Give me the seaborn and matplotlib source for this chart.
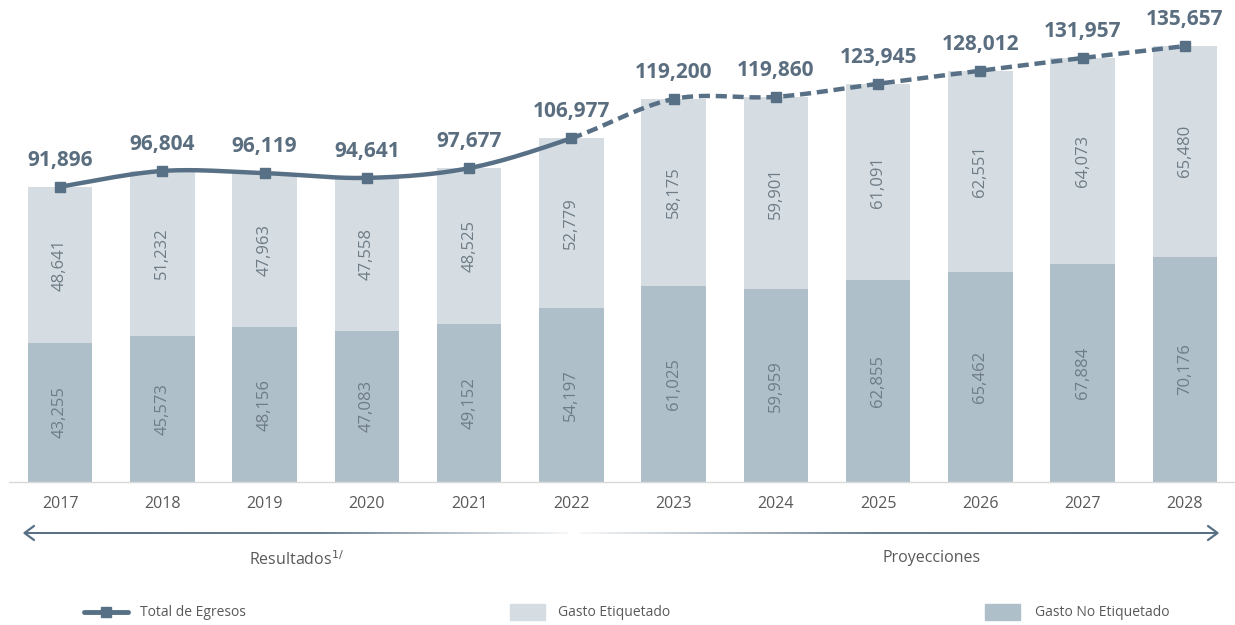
import numpy as np
import pandas as pd
import matplotlib
matplotlib.use("Agg")
import matplotlib.pyplot as plt
import seaborn as sns
from matplotlib.lines import Line2D
from matplotlib.patches import Rectangle

# Datos
years = ["2017", "2018", "2019", "2020", "2021", "2022",
         "2023", "2024", "2025", "2026", "2027", "2028"]
gasto_no_etiquetado = [43255, 45573, 48156, 47083, 49152, 54197,
                       61025, 59959, 62855, 65462, 67884, 70176]
gasto_etiquetado = [48641, 51232, 47963, 47558, 48525, 52779,
                    58175, 59901, 61091, 62551, 64073, 65480]
total_egresos = [91896, 96804, 96119, 94641, 97677, 106977,
                 119200, 119860, 123945, 128012, 131957, 135657]
ultimo_resultado = "2022"

df = pd.DataFrame({"year": years,
                   "no_etiq": gasto_no_etiquetado,
                   "etiq": gasto_etiquetado,
                   "total": total_egresos})
df["stack"] = df["no_etiq"] + df["etiq"]

sns.set_style("white")
plt.rcParams["font.family"] = ["Open Sans", "DejaVu Sans"]

c_light = "#d5dce2"
c_dark = "#afbfca"
c_line = "#587085"
c_txt = "#5a6e80"
c_in = "#6e7c86"
c_tick = "#595959"

W, H = 1235, 625
fig = plt.figure(figsize=(W / 100, H / 100), dpi=100)
ax = fig.add_axes([9 / W, 1 - 482 / H, 1227 / W, 482 / H])

# Barras apiladas (total claro debajo, no etiquetado encima)
sns.barplot(data=df, x="year", y="stack", color=c_light, width=0.63,
            saturation=1, linewidth=0, ax=ax)
sns.barplot(data=df, x="year", y="no_etiq", color=c_dark, width=0.63,
            saturation=1, linewidth=0, ax=ax)

xs = np.arange(len(years))
for i, row in df.iterrows():
    ax.text(i, row["no_etiq"] / 2, f"{row['no_etiq']:,}", rotation=90,
            ha="center", va="center", fontsize=12, color=c_in)
    ax.text(i, row["no_etiq"] + row["etiq"] / 2, f"{row['etiq']:,}",
            rotation=90, ha="center", va="center", fontsize=12, color=c_in)


# Línea suavizada (Catmull-Rom)
def smooth(x, y, n=30):
    p = np.column_stack([x, y]).astype(float)
    pp = np.vstack([p[0], p, p[-1]])
    out = []
    for k in range(len(p) - 1):
        p0, p1, p2, p3 = pp[k], pp[k + 1], pp[k + 2], pp[k + 3]
        c1 = p1 + (p2 - p0) / 6
        c2 = p2 - (p3 - p1) / 6
        t = np.linspace(0, 1, n)[:, None]
        seg = ((1 - t) ** 3) * p1 + 3 * ((1 - t) ** 2) * t * c1 \
            + 3 * (1 - t) * t ** 2 * c2 + t ** 3 * p2
        out.append(seg if k == 0 else seg[1:])
    return np.vstack(out)


tot = np.array(total_egresos, dtype=float)
curve = smooth(xs, tot)
cut = years.index(ultimo_resultado)
n = 30
split = cut * (n - 1)
ax.plot(curve[:split + 1, 0], curve[:split + 1, 1], color=c_line, lw=3.2,
        solid_capstyle="round", zorder=4)
ax.plot(curve[split:, 0], curve[split:, 1], color=c_line, lw=3.2,
        linestyle=(0, (2.5, 1.3)), zorder=4)
ax.plot(xs, tot, linestyle="none", marker="s", markersize=7.5,
        color=c_line, zorder=5)

for i, v in enumerate(total_egresos):
    ax.annotate(f"{v:,}", (i, v), xytext=(0, 19), textcoords="offset points",
                ha="center", va="center", fontsize=15, fontweight="bold",
                color=c_txt)

ax.set_xlim(-0.5, len(years) - 0.5)
ax.set_ylim(0, 150000)
ax.set_xlabel("")
ax.set_ylabel("")
ax.set_yticks([])
for s in ["top", "left", "right"]:
    ax.spines[s].set_visible(False)
ax.spines["bottom"].set_color("#d9d9d9")
ax.spines["bottom"].set_linewidth(1)
ax.tick_params(axis="x", length=0, pad=10, labelsize=11.5, labelcolor=c_tick)


# Flechas con degradado
def fx(px):
    return px / W


def fy(py):
    return 1 - py / H


base = np.array(matplotlib.colors.to_rgb(c_line))


def grad_bar(x0, x1, xp, ap, y, thick=2.2):
    xx = np.linspace(x0, x1, 400)
    a = np.interp(xx, xp, ap)
    rgb = a[:, None] * base + (1 - a[:, None]) * np.ones(3)
    gax = fig.add_axes([fx(x0), fy(y + thick / 2), (x1 - x0) / W, thick / H])
    gax.imshow(rgb[None, :, :], aspect="auto", interpolation="bilinear")
    gax.set_axis_off()


ya = 533
grad_bar(24, 568, [24, 320, 568], [1.0, 0.9, 0.05], ya)
grad_bar(580, 1217, [580, 880, 1217], [0.05, 0.9, 1.0], ya)
fig.add_artist(Line2D([fx(34), fx(24.5), fx(34)], [fy(ya - 7), fy(ya), fy(ya + 7)],
                      color=c_line, lw=1.6, transform=fig.transFigure))
fig.add_artist(Line2D([fx(1208), fx(1217.5), fx(1208)], [fy(ya - 7), fy(ya), fy(ya + 7)],
                      color=c_line, lw=1.6, transform=fig.transFigure))

fig.text(fx(297), fy(560), "Resultados$^{1/}$", ha="center", va="center",
         fontsize=11.5, color=c_tick)
fig.text(fx(932), fy(558), "Proyecciones", ha="center", va="center",
         fontsize=11.5, color=c_tick)

# Leyenda manual
ly = 612
fig.add_artist(Line2D([fx(84), fx(128)], [fy(ly), fy(ly)], color=c_line, lw=3.5,
                      transform=fig.transFigure))
fig.add_artist(Line2D([fx(106)], [fy(ly)], marker="s", markersize=7.5,
                      color=c_line, transform=fig.transFigure))
fig.text(fx(140), fy(ly), "Total de Egresos", ha="left", va="center",
         fontsize=10, color=c_tick)
fig.add_artist(Rectangle((fx(510), fy(ly + 8)), 35 / W, 16 / H, color=c_light,
                         transform=fig.transFigure))
fig.text(fx(558), fy(ly), "Gasto Etiquetado", ha="left", va="center",
         fontsize=10, color=c_tick)
fig.add_artist(Rectangle((fx(985), fy(ly + 8)), 35 / W, 16 / H, color=c_dark,
                         transform=fig.transFigure))
fig.text(fx(1035), fy(ly), "Gasto No Etiquetado", ha="left", va="center",
         fontsize=10, color=c_tick)

fig.savefig("out.png", dpi=100, facecolor="white")
